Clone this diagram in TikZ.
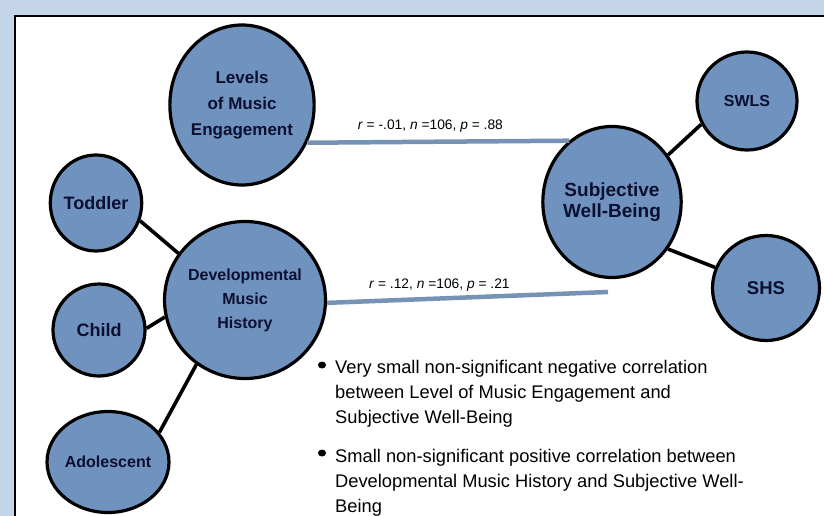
\documentclass[tikz,border=0pt]{standalone}
\usepackage{fontspec}
\setmainfont{Liberation Sans}
\usetikzlibrary{shapes.geometric, positioning}
\definecolor{frameBlue}{RGB}{197,213,233}
\definecolor{nodeBlue}{RGB}{112,146,190}
\definecolor{lineBlue}{RGB}{118,146,180}
\definecolor{textNavy}{RGB}{12,16,48}
\newcommand{\bubblefont}[2]{\bfseries\fontsize{#1}{#2}\selectfont}

\begin{document}
\begin{tikzpicture}[x=1pt, y=-1pt,
    bubble/.style={ellipse, draw=black, line width=3.2pt, fill=nodeBlue, inner sep=0pt, align=center, text=textNavy},
    link/.style={line width=3.6pt, black},
    corr/.style={line width=4.5pt, lineBlue},
    stat/.style={font=\fontsize{13.8}{16}\selectfont, text=black, inner sep=0pt},
    note/.style={font=\fontsize{18.3}{25}\selectfont, align=left, inner sep=0pt, anchor=north west},
    bulletdot/.style={ellipse, fill=black, minimum width=8pt, minimum height=7pt, inner sep=0pt}]
    \useasboundingbox (0,0) rectangle (824,516);
    \fill[frameBlue] (0,0) rectangle (824,516);
    \draw[line width=2.5pt, fill=white] (15,16) rectangle (840,540);

    \node[bubble, minimum width=142pt, minimum height=160pt, font=\bubblefont{17}{26}] (lme) at (242,105) {Levels\\of Music\\Engagement};
    \node[bubble, minimum width=144pt, minimum height=157pt, font=\bubblefont{16}{24}] (dmh) at (245,300) {Developmental\\Music\\History};
    \node[bubble, minimum width=86pt, minimum height=96pt, font=\bubblefont{18}{22}] (tod) at (96,203) {Toddler};
    \node[bubble, minimum width=92pt, minimum height=92pt, font=\bubblefont{18}{22}] (chi) at (99,330) {Child};
    \node[bubble, minimum width=97pt, minimum height=101pt, font=\bubblefont{16}{20}] (ado) at (108,462) {Adolescent};
    \node[bubble, minimum width=130pt, minimum height=151pt, font=\bubblefont{19}{21}] (swb) at (612,202) {Subjective\\Well-Being};
    \node[bubble, minimum width=100pt, minimum height=98pt, font=\bubblefont{16}{20}] (swls) at (747,101) {SWLS};
    \node[bubble, minimum width=107pt, minimum height=105pt, font=\bubblefont{18.5}{22}] (shs) at (766,288) {SHS};
    \coordinate (swbfoot) at (608,292);

    \draw[link] (tod.-22) -- (dmh.145);
    \draw[link] (chi.2) -- (dmh.192);
    \draw[link] (ado.30) -- (dmh.233);
    \draw[link] (swb.40) -- (swls.207);
    \draw[link] (swb.-40) -- (shs.158);

    \draw[corr] (lme.-30) -- (swb.125) node[stat, pos=0.47, above=7pt] {\textit{r} = -.01, \textit{n} =106, \textit{p} = .88};
    \draw[corr] (dmh.-2) -- (swbfoot) node[stat, pos=0.4, above=5pt] {\textit{r} = .12, \textit{n} =106, \textit{p} = .21};

    \node[bulletdot] (bulA) at (322,365) {};
    \node[note] (noteA) at (335,360) {Very small non-significant negative correlation\\between Level of Music Engagement and\\Subjective Well-Being};
    \node[bulletdot] (bulB) at (322,453) {};
    \node[note] (noteB) at (335,449) {Small non-significant positive correlation between\\Developmental Music History and Subjective Well-\\Being};
\end{tikzpicture}
\end{document}
